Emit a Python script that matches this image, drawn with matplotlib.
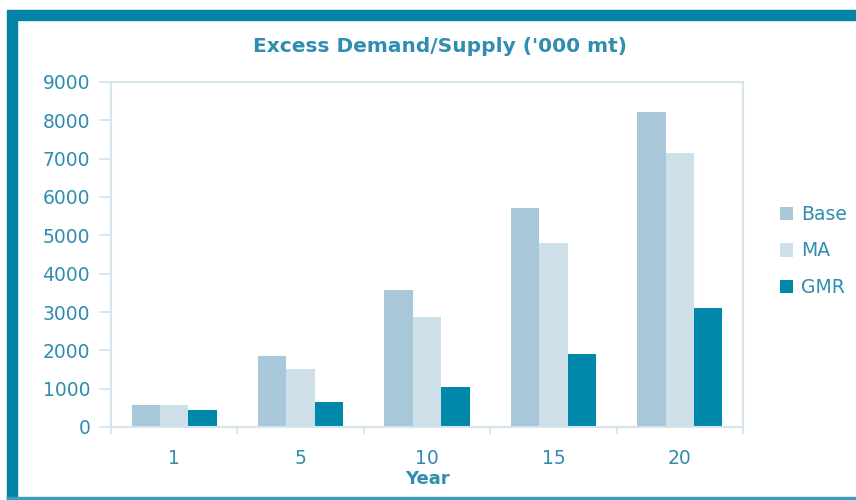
import numpy as np
import matplotlib
matplotlib.use("Agg")
import matplotlib.pyplot as plt
from matplotlib.patches import Rectangle

years = ["1", "5", "10", "15", "20"]
base = [570, 1850, 3570, 5710, 8210]
ma = [565, 1505, 2860, 4810, 7140]
gmr = [440, 660, 1035, 1900, 3095]

C_TEXT = "#2F8DB0"
C_FRAME = "#0283A6"
C_AXIS = "#D6E4EE"
C_BASE = "#A8C8DA"
C_MA = "#CFDFEA"
C_GMR = "#0088AA"

plt.rcParams["font.family"] = ["DejaVu Sans"]

fig = plt.figure(figsize=(8.56, 5.0), dpi=100)
W, H = 856, 500

# teal frame: thick left and top, thin bottom
fig.patches.append(Rectangle((7 / W, 0), 10 / W, 480 / H, transform=fig.transFigure,
                             color=C_FRAME, zorder=0))
fig.patches.append(Rectangle((7 / W, 480 / H), 849 / W, 10 / H, transform=fig.transFigure,
                             color=C_FRAME, zorder=0))
fig.patches.append(Rectangle((7 / W, 0), 849 / W, 3 / H, transform=fig.transFigure,
                             color="#3C9DBE", zorder=0))

ax = fig.add_axes([111 / W, 73 / H, 632 / W, 345 / H])
x = np.arange(len(years))
bw = 0.225
ax.bar(x - bw, base, bw, color=C_BASE, label="Base")
ax.bar(x, ma, bw, color=C_MA, label="MA")
ax.bar(x + bw, gmr, bw, color=C_GMR, label="GMR")

ax.set_xlim(-0.5, len(years) - 0.5)
ax.set_ylim(0, 9000)
ax.set_yticks(np.arange(0, 9001, 1000))
ax.set_xticks(x)
ax.set_xticklabels(years)
ax.set_xticks(np.arange(-0.5, len(years)), minor=True)

for sp in ax.spines.values():
    sp.set_color(C_AXIS)
    sp.set_linewidth(1.5)
ax.tick_params(axis="y", colors=C_AXIS, labelcolor=C_TEXT, length=9, width=1.3,
               labelsize=13.5, pad=6)
ax.tick_params(axis="x", which="major", length=0, labelcolor=C_TEXT, labelsize=13.5, pad=16)
ax.tick_params(axis="x", which="minor", colors=C_AXIS, length=5, width=1.3)

ax.set_xlabel("Year", color=C_TEXT, fontsize=13, fontweight="bold", labelpad=1)
fig.text(440 / W, 1 - 47 / H, "Excess Demand/Supply ('000 mt)", color=C_TEXT,
         fontsize=14.5, fontweight="bold", ha="center", va="center")

fig.legend(loc="center left", bbox_to_anchor=(763 / W, 1 - 251 / H), frameon=False,
           handlelength=0.7, handleheight=0.7, handletextpad=0.45, labelspacing=0.95,
           fontsize=13.5, labelcolor=C_TEXT)

fig.savefig("out.png", dpi=100)
